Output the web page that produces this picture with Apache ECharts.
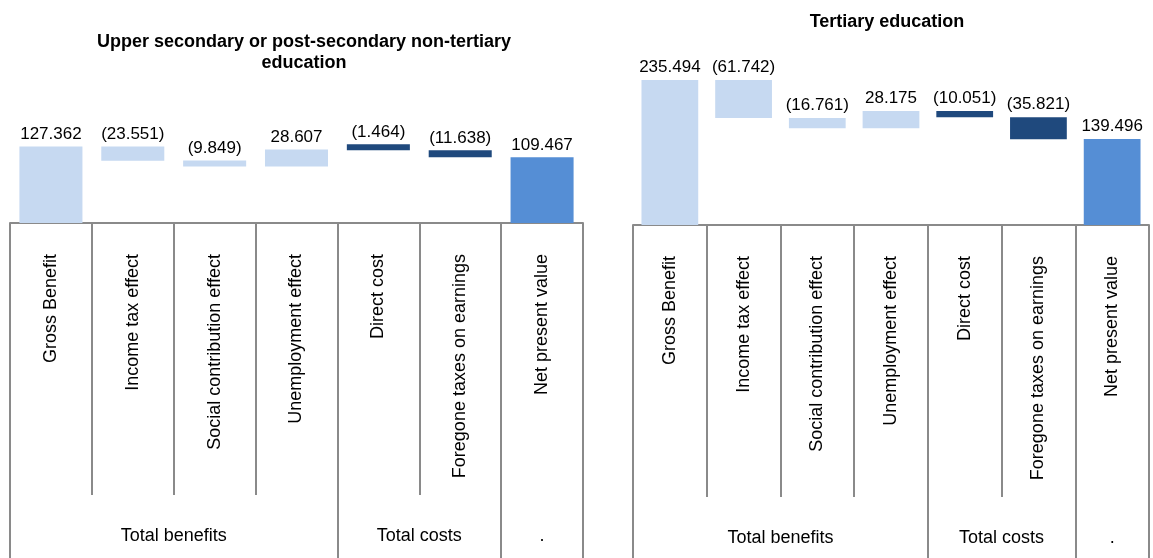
<!DOCTYPE html>
<html>
<head>
<meta charset="utf-8">
<script src="https://cdn.jsdelivr.net/npm/echarts@6/dist/echarts.min.js"></script>
<style>
  html, body { margin: 0; padding: 0; background: #fff; }
  #chart { width: 1153px; height: 558px; }
</style>
</head>
<body>
<div id="chart"></div>
<script>
// categories and groups
const categories = ['Gross Benefit', 'Income tax effect', 'Social contribution effect', 'Unemployment effect',
  'Direct cost', 'Foregone taxes on earnings', 'Net present value'];
const groupNames = ['Total benefits', 'Total costs', '.'];
const groupEdges = [0, 4, 6, 7];
const groupCenters = [2, 5, 6.5];

// values
const upperValues = [127.362, -23.551, -9.849, 28.607, -1.464, -11.638, 109.467];
const tertiaryValues = [235.494, -61.742, -16.761, 28.175, -10.051, -35.821, 139.496];

const barColors = ['#c6d9f1', '#c6d9f1', '#c6d9f1', '#c6d9f1', '#1f497d', '#1f497d', '#558ed5'];
const lineColor = '#8a8a8a';
const font = 'Liberation Sans, Arial, sans-serif';

// waterfall: invisible base + visible part
function waterfall(values) {
  let run = 0;
  const base = [], vis = [];
  values.forEach((v, i) => {
    if (i === 0 || i === values.length - 1) {
      base.push(0);
      vis.push(v);
      run = v;
    } else if (v < 0) {
      base.push(run + v);
      vis.push(-v);
      run += v;
    } else {
      base.push(run);
      vis.push(v);
      run += v;
    }
  });
  return {base, vis};
}

function fmt(v) {
  return v < 0 ? '(' + Math.abs(v).toFixed(3) + ')' : v.toFixed(3);
}

function axesFor(gi) {
  const cat = {
    type: 'category', gridIndex: gi, data: categories,
    axisLine: {show: true, lineStyle: {color: lineColor, width: 2}},
    axisTick: {show: true, interval: 0, length: 272, lineStyle: {color: lineColor, width: 2}},
    axisLabel: {interval: 0, rotate: 90, margin: 31, fontSize: 18, color: '#000', fontFamily: font}
  };
  const grp = {
    type: 'value', gridIndex: gi, min: 0, max: 7, position: 'bottom', offset: 272,
    splitLine: {show: false},
    axisLine: {show: false},
    axisTick: {show: true, customValues: groupEdges, length: 70, lineStyle: {color: lineColor, width: 2}},
    axisLabel: {
      customValues: groupCenters, margin: 32, fontSize: 18, color: '#000', fontFamily: font,
      formatter: v => groupNames[groupCenters.indexOf(v)]
    }
  };
  return [cat, grp];
}

function seriesFor(values, gi) {
  const w = waterfall(values);
  return [
    {
      type: 'bar', xAxisIndex: gi * 2, yAxisIndex: gi, stack: 'w' + gi, silent: true,
      itemStyle: {color: 'transparent'}, data: w.base, barCategoryGap: '23%'
    },
    {
      type: 'bar', xAxisIndex: gi * 2, yAxisIndex: gi, stack: 'w' + gi, barMinHeight: 6,
      barCategoryGap: '23%',
      data: w.vis.map((v, i) => ({value: v, itemStyle: {color: barColors[i]}})),
      label: {
        show: true, position: 'top', distance: 4, fontSize: 17, color: '#000', fontFamily: font,
        formatter: p => fmt(values[p.dataIndex])
      }
    }
  ];
}

const chart = echarts.init(document.getElementById('chart'));
const ax0 = axesFor(0), ax1 = axesFor(1);

chart.setOption({
  animation: false,
  title: [
    {
      text: 'Upper secondary or post-secondary non-tertiary\neducation',
      left: 304, top: 32, padding: 0, textAlign: 'center',
      textStyle: {fontSize: 18, fontWeight: 'bold', lineHeight: 21, color: '#000', fontFamily: font}
    },
    {
      text: 'Tertiary education',
      left: 887, top: 12, padding: 0, textAlign: 'center',
      textStyle: {fontSize: 18, fontWeight: 'bold', lineHeight: 21, color: '#000', fontFamily: font}
    }
  ],
  grid: [
    {left: 10, right: 570, top: 133, bottom: 335},
    {left: 633, right: 4, top: 71, bottom: 333}
  ],
  xAxis: [ax0[0], ax0[1], ax1[0], ax1[1]],
  yAxis: [
    {type: 'value', gridIndex: 0, min: 0, max: 150, show: false},
    {type: 'value', gridIndex: 1, min: 0, max: 250, show: false}
  ],
  series: [...seriesFor(upperValues, 0), ...seriesFor(tertiaryValues, 1)]
});
</script>
</body>
</html>
